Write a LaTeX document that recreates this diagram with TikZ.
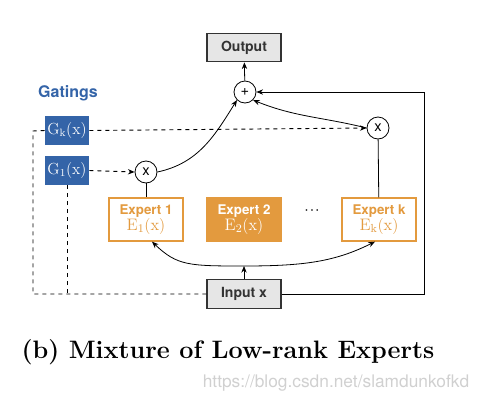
\documentclass[tikz,border=0pt]{standalone}
\usepackage{fontspec}
\setsansfont{TeX Gyre Heros}
\usetikzlibrary{arrows.meta}
\definecolor{gblue}{HTML}{3464A8}
\definecolor{eorange}{HTML}{E39A3E}
\definecolor{boxgray}{HTML}{E6E6E6}
\definecolor{wmgray}{HTML}{D0D0D0}
\begin{document}
\begin{tikzpicture}[x=0.75pt,y=-0.75pt,
  line width=0.6pt,
  >={Stealth[length=5pt,width=4pt]},
  graybox/.style={draw=black!80,fill=boxgray,line width=0.8pt,minimum width=55.5pt,minimum height=21.5pt,inner sep=0pt,font=\sffamily\bfseries\fontsize{10.5}{12}\selectfont,text=black!80},
  gatebox/.style={fill=gblue,text=white,minimum width=33pt,minimum height=21.75pt,inner sep=0pt,font=\fontsize{12}{14}\selectfont},
  expbox/.style={draw=eorange,line width=1pt,fill=white,text=eorange,minimum width=55.5pt,minimum height=32.25pt,inner sep=0pt,align=center,font=\fontsize{12.5}{13}\selectfont},
  expfill/.style={expbox,fill=eorange,text=white},
  opcirc/.style={draw,circle,minimum size=16.5pt,inner sep=0pt,font=\sffamily\fontsize{11}{12}\selectfont},
  dashline/.style={dashed,draw=black,line width=0.7pt}
]
\useasboundingbox (0,0) rectangle (481,400);

\node[graybox] (out) at (244,47.5) {Output};
\node[opcirc] (plus) at (245,92) {+};
\node[font=\sffamily\bfseries\fontsize{12}{14}\selectfont,text=gblue] (gat) at (68,93) {Gatings};
\node[gatebox] (gk) at (67,130.5) {$\mathrm{G_k(x)}$};
\node[gatebox] (g1) at (67,170.5) {$\mathrm{G_1(x)}$};
\node[opcirc] (x1) at (146,172) {x};
\node[opcirc] (xk) at (378,128) {x};
\node[expbox] (e1) at (146,219.5) {{\sffamily\bfseries\fontsize{10}{11}\selectfont Expert 1}\\[-1pt]$\mathrm{E_1(x)}$};
\node[expfill] (e2) at (244,219.5) {{\sffamily\bfseries\fontsize{10}{11}\selectfont Expert 2}\\[-1pt]$\mathrm{E_2(x)}$};
\node[font=\bfseries\fontsize{12}{14}\selectfont] (dots) at (312,211) {$\cdot\!\cdot\!\cdot$};
\node[expbox] (ek) at (379,219.5) {{\sffamily\bfseries\fontsize{10}{11}\selectfont Expert k}\\[-1pt]$\mathrm{E_k(x)}$};
\node[graybox] (in) at (244,294) {Input x};

\node[font=\bfseries\fontsize{18.9}{22}\selectfont] (cap) at (228,352) {(b) Mixture of Low-rank Experts};
\node[font=\sffamily\fontsize{13}{15}\selectfont,text=wmgray,anchor=east] (wm) at (474,383) {https://blog.csdn.net/slamdunkofkd};

% connectors
\coordinate (rc) at (424,92);
\coordinate (dl) at (33,131);
\coordinate (mid) at (244,266);
\draw[->] (plus) -- (out);
\draw[->] (in.east) -| (rc) -- (plus.east);
\draw[dashline,->] (gk.east) -- (xk.west);
\draw[dashline,->] (g1.east) -- (x1.west);
\draw[dashline] (gk.west) -- (dl) |- (in.west);
\draw[dashline] (g1.south) -- (g1.south |- in.west);
\draw[->] (x1.east) to[out=12,in=-122] (plus.south west);
\draw[->] (xk.west) to[out=166,in=-22] (plus.south east);
\draw (x1) -- (e1);
\draw (xk) -- (ek);
\draw[->] (in.north) -- (mid);
\draw[<->] ([xshift=4.5pt]e1.south) .. controls +(25,24) and +(-55,0) .. (mid) .. controls +(60,0) and +(-40,20) .. ([xshift=-3pt]ek.south);
\end{tikzpicture}
\end{document}
